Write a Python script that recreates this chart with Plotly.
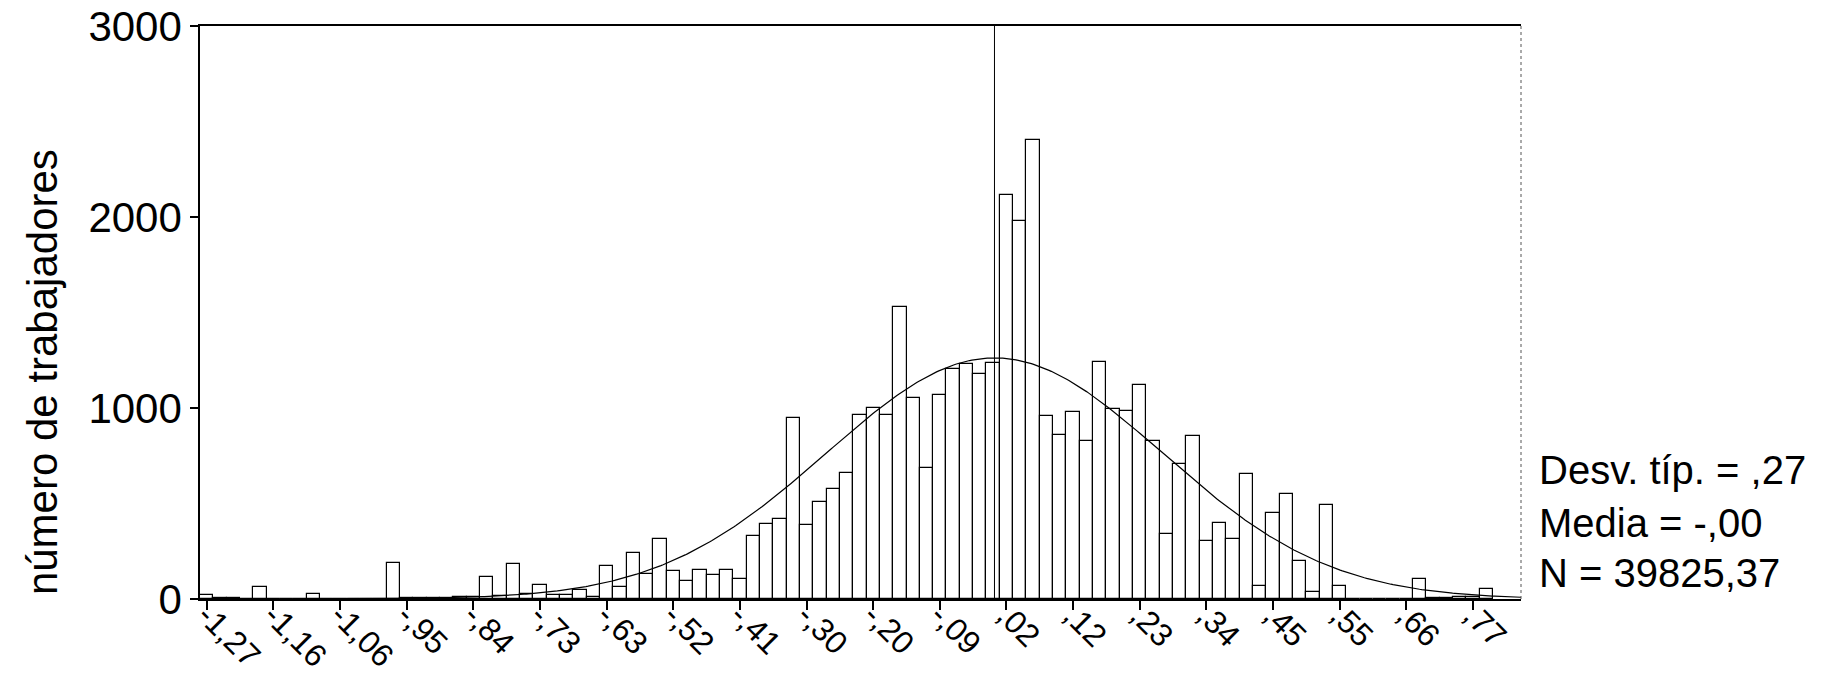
import numpy as np
import plotly.graph_objects as go

# Histogram parameters (bin centres as labelled by SPSS)
FIRST_CENTER = -1.2697
BIN_WIDTH = 0.02145

# Counts per bin, 97 bins
counts = [
    20, 3, 3, 0, 61, 0, 0, 0, 28, 0,
    0, 0, 0, 0, 189, 3, 4, 5, 6, 10,
    12, 115, 15, 184, 25, 72, 20, 20, 49, 10,
    171, 65, 243, 131, 313, 147, 94, 152, 126, 152,
    107, 330, 395, 420, 949, 385, 509, 577, 660, 962,
    998, 962, 1528, 1055, 687, 1066, 1206, 1228, 1179, 1235,
    2114, 1979, 2405, 958, 857, 980, 829, 1240, 994, 985,
    1118, 829, 340, 709, 855, 302, 397, 312, 656, 66,
    449, 552, 197, 35, 490, 66, 0, 0, 0, 0,
    0, 105, 3, 5, 8, 8, 50,
]

tick_labels = ["-1,27", "-1,16", "-1,06", "-,95", "-,84", "-,73", "-,63", "-,52",
               "-,41", "-,30", "-,20", "-,09", ",02", ",12", ",23", ",34", ",45",
               ",55", ",66", ",77"]

# Summary statistics shown in the chart
STD_DEV = 0.27
MEAN = -0.002
N_TOTAL = 39825.37

y_ticks = [0, 1000, 2000, 3000]
stats_lines = ["Desv. típ. = ,27", "Media = -,00", "N = 39825,37"]
y_title = "número de trabajadores"

centers = FIRST_CENTER + BIN_WIDTH * np.arange(len(counts))
tick_vals = centers[::5][:len(tick_labels)]

# Fitted normal curve (as drawn by SPSS)
xc = np.linspace(-1.2805, 0.8453, 600)
yc = N_TOTAL * BIN_WIDTH / (STD_DEV * np.sqrt(2 * np.pi)) * np.exp(-0.5 * ((xc - MEAN) / STD_DEV) ** 2)

FONT = "Liberation Sans, Arial, sans-serif"

fig = go.Figure()
fig.add_trace(go.Bar(
    x=centers, y=counts, width=BIN_WIDTH,
    marker=dict(color="white", line=dict(color="black", width=1.2)),
    showlegend=False,
))
fig.add_trace(go.Scatter(
    x=xc, y=yc, mode="lines", line=dict(color="black", width=1.2),
    showlegend=False, hoverinfo="skip",
))
fig.add_trace(go.Scatter(
    x=[MEAN, MEAN], y=[0, y_ticks[-1]], mode="lines",
    line=dict(color="black", width=1), showlegend=False, hoverinfo="skip",
))

fig.update_layout(
    width=1835, height=673,
    margin=dict(l=200, r=314, t=26, b=74, autoexpand=False),
    paper_bgcolor="white", plot_bgcolor="white",
    bargap=0,
    font=dict(family=FONT, color="black"),
)
fig.update_xaxes(
    range=[-1.2805, 0.8453], automargin=False,
    tickmode="array", tickvals=tick_vals, ticktext=tick_labels,
    tickangle=45, ticks="outside", ticklen=9, tickwidth=2, tickcolor="black",
    tickfont=dict(size=32, family=FONT, color="black"),
    ticklabeloverflow="allow", ticklabelstandoff=-26,
    showline=True, linecolor="black", linewidth=1.5, mirror=True,
    showgrid=False, zeroline=False,
)
fig.update_yaxes(
    range=[0, 3000], automargin=False,
    tickmode="array", tickvals=y_ticks, ticktext=[str(v) for v in y_ticks],
    ticks="outside", ticklen=8, tickwidth=1.5, tickcolor="black",
    tickfont=dict(size=42, family=FONT, color="black"),
    ticklabeloverflow="allow",
    showline=True, linecolor="black", linewidth=1.5,
    showgrid=False, zeroline=False,
)
# right border (faint, dotted in the scan)
fig.add_shape(type="line", xref="paper", yref="paper", x0=1, x1=1, y0=0, y1=1,
              line=dict(color="#555555", width=1, dash="dot"))

fig.add_annotation(
    text=y_title, xref="paper", yref="paper", x=-0.1196, y=0.396,
    xanchor="center", yanchor="middle", textangle=-90, showarrow=False,
    font=dict(size=42, family=FONT, color="black"),
)
for i, line in enumerate(stats_lines):
    fig.add_annotation(
        text=line, xref="paper", yref="paper", x=1.0121, y=[0.2243, 0.1335, 0.0457][i],
        xanchor="left", yanchor="middle", showarrow=False,
        font=dict(size=40, family=FONT, color="black"),
    )

fig.write_html("out.html", config={"displayModeBar": False},
               post_script="document.body.style.margin='0';")
